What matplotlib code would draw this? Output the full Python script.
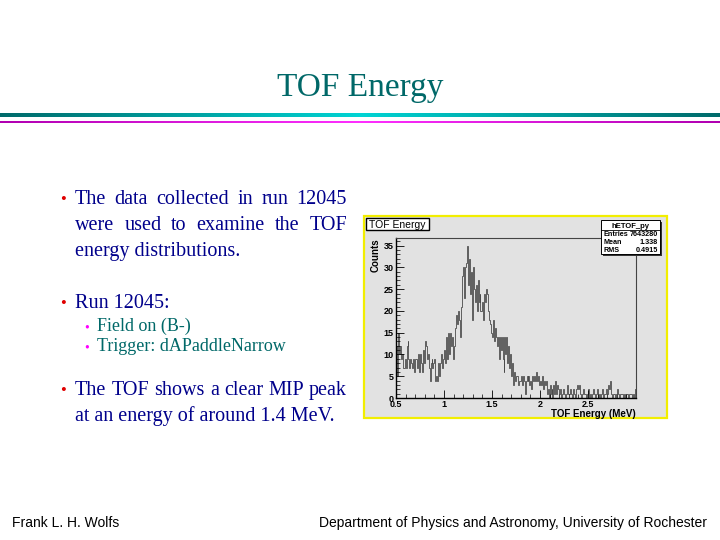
"""TOF Energy slide with ROOT style histogram"""
import numpy as np
import matplotlib.pyplot as plt
from matplotlib.colors import LinearSegmentedColormap
from matplotlib.patches import Rectangle
from matplotlib.ticker import MultipleLocator

W, H = 720, 540

# histogram data, 0.01 MeV bins starting at 0.5 MeV (one row per 0.1 MeV)
bin_lo = 0.5
bin_width = 0.01
counts = [
    12, 5, 15, 10, 12, 9, 10, 7, 7, 9,        # 0.5
    7, 12, 13, 9, 7, 9, 8, 7, 9, 6,           # 0.6
    9, 9, 7, 10, 6, 10, 8, 6, 11, 8,          # 0.7
    13, 12, 9, 10, 7, 4, 8, 9, 7, 8,          # 0.8
    9, 4, 5, 4, 8, 5, 8, 10, 7, 9,            # 0.9
    11, 8, 14, 9, 15, 10, 15, 12, 14, 9,      # 1.0
    12, 16, 17, 19, 17, 20, 18, 14, 21, 28,   # 1.1
    30, 23, 30, 31, 35, 26, 32, 24, 29, 18,   # 1.2
    30, 25, 22, 26, 20, 27, 22, 24, 20, 20,   # 1.3
    22, 18, 24, 22, 25, 24, 20, 18, 17, 15,   # 1.4
    14, 18, 13, 16, 14, 12, 14, 9, 14, 11,    # 1.5
    14, 9, 6, 14, 10, 14, 8, 12, 7, 10,       # 1.6
    5, 8, 3, 6, 4, 5, 5, 3, 4, 4,             # 1.7
    5, 3, 5, 4, 1, 4, 5, 4, 5, 3,             # 1.8
    4, 2, 5, 4, 5, 4, 6, 4, 5, 3,             # 1.9
    4, 3, 5, 2, 4, 3, 4, 1, 2, 0,             # 2.0
    3, 1, 2, 0, 3, 1, 4, 1, 3, 2,             # 2.1
    1, 2, 0, 1, 2, 1, 0, 1, 3, 1,             # 2.2
    1, 2, 1, 0, 2, 1, 0, 1, 2, 3,             # 2.3
    2, 3, 1, 0, 1, 2, 1, 1, 0, 1,             # 2.4
    2, 0, 1, 0, 1, 2, 1, 0, 1, 2,             # 2.5
    0, 1, 1, 0, 1, 2, 0, 1, 1, 2,             # 2.6
    1, 3, 2, 4, 1, 0, 1, 1, 0, 1,             # 2.7
    2, 1, 0, 1, 1, 1, 0, 1, 1, 0,             # 2.8
    1, 1, 0, 1, 1, 1, 0, 1, 0, 2,             # 2.9
]
x_ticks = [0.5, 1, 1.5, 2, 2.5]
x_tick_labels = ['0.5', '1', '1.5', '2', '2.5']
y_ticks = [0, 5, 10, 15, 20, 25, 30, 35]

stats_name = 'hETOF_py'
stats_rows = [('Entries', '7643280'), ('Mean', '1.338'), ('RMS', '0.4915')]

title = 'TOF Energy'
footer_left = 'Frank L. H. Wolfs'
footer_right = 'Department of Physics and Astronomy, University of Rochester'

SERIF = 'Liberation Serif'
SANS = 'Liberation Sans'
NAVY = '#00008b'
TEAL = '#006868'


def fx(x):
    return x / W


def fy(y):
    return 1 - y / H


fig = plt.figure(figsize=(7.2, 5.4), dpi=100)
fig.patch.set_facecolor('white')

# Titulo y lineas de cabecera
fig.text(fx(360), fy(96), title, ha='center', va='baseline', family=SERIF,
         fontsize=24, color=TEAL)

grad = np.abs(np.linspace(-1, 1, 512))[None, :]
teal_cmap = LinearSegmentedColormap.from_list('t', ['#00d4d4', '#006a6a'])
mag_cmap = LinearSegmentedColormap.from_list('m', ['#ff30ff', '#b000b0'])
for (y0, h, cmap) in [(117.5, 4.8, teal_cmap), (123.5, 2.6, mag_cmap)]:
    gax = fig.add_axes([0, fy(y0), 1, h / H])
    gax.imshow(grad, aspect='auto', cmap=cmap)
    gax.axis('off')

renderer = fig.canvas.get_renderer()


def justified(text, x0, x1, y, **kw):
    words = text.split()
    objs = [fig.text(0, fy(y), w, va='baseline', **kw) for w in words]
    widths = [o.get_window_extent(renderer).width for o in objs]
    gap = ((x1 - x0) - sum(widths)) / (len(words) - 1)
    x = x0
    for o, w in zip(objs, widths):
        o.set_x(fx(x))
        x += w + gap


body = dict(family=SERIF, fontsize=14.5, color=NAVY)
sub = dict(family=SERIF, fontsize=13, color=TEAL)


def bullet(x, y, color, size):
    fig.text(fx(x), fy(y), '\u2022', ha='center', va='baseline', family=SERIF,
             fontsize=size, color=color)


bullet(63, 204, '#e00000', 12)
justified('The data collected in run 12045', 75, 347, 204, **body)
justified('were used to examine the TOF', 75, 347, 230, **body)
fig.text(fx(75), fy(256), 'energy distributions.', va='baseline', **body)

bullet(63, 308, '#e00000', 12)
fig.text(fx(75), fy(308), 'Run 12045:', va='baseline', **body)
bullet(87, 331, '#ff00ff', 10)
fig.text(fx(97), fy(331), 'Field on (B-)', va='baseline', **sub)
bullet(87, 351, '#ff00ff', 10)
fig.text(fx(97), fy(351), 'Trigger: dAPaddleNarrow', va='baseline', **sub)

bullet(63, 395, '#e00000', 12)
justified('The TOF shows a clear MIP peak', 75, 347, 395, **body)
fig.text(fx(75), fy(421), 'at an energy of around 1.4 MeV.', va='baseline', **body)

# Pie de pagina
fig.text(fx(12), fy(527), footer_left, va='baseline', family=SANS, fontsize=10)
fig.text(fx(707), fy(527), footer_right, ha='right', va='baseline', family=SANS,
         fontsize=10)

# Lienzo ROOT
fig.patches.append(Rectangle((fx(364), fy(418)), 303 / W, 202 / H,
                             transform=fig.transFigure, facecolor='#e2e2e2',
                             edgecolor='#f2ee00', lw=1.6, zorder=0))

ax = fig.add_axes([fx(396), fy(398), 240 / W, 160 / H])
ax.set_zorder(2)
ax.set_facecolor('#e2e2e2')
edges = bin_lo + bin_width * np.arange(len(counts) + 1)
ax.stairs(counts, edges, color='#4a4a4a', lw=0.6)
ax.set_xlim(0.5, 3.0)
ax.set_ylim(0, 36.75)
ax.set_xticks(x_ticks)
ax.set_xticklabels(x_tick_labels)
ax.set_yticks(y_ticks)
ax.xaxis.set_minor_locator(MultipleLocator(0.1))
ax.yaxis.set_minor_locator(MultipleLocator(1))
ax.tick_params(which='major', direction='in', length=6, width=0.6,
               labelsize=6.5, pad=1.5, top=False, right=False)
ax.tick_params(which='minor', direction='in', length=3, width=0.5,
               top=False, right=False)
for lbl in ax.get_xticklabels() + ax.get_yticklabels():
    lbl.set_fontweight('bold')
    lbl.set_family(SANS)
for side in ['left', 'bottom']:
    ax.spines[side].set_linewidth(1.0)
for side in ['top', 'right']:
    ax.spines[side].set_linewidth(0.8)
    ax.spines[side].set_color('#444444')
ax.set_xlabel('TOF Energy (MeV)', fontsize=7, fontweight='bold', family=SANS,
              loc='right', labelpad=0)
ax.set_ylabel('Counts', fontsize=7, fontweight='bold', family=SANS,
              loc='top', labelpad=2)

# Caja del titulo del histograma
fig.patches.append(Rectangle((fx(366), fy(230)), 63 / W, 12 / H,
                             transform=fig.transFigure, facecolor='white',
                             edgecolor='black', lw=1.0, zorder=3))
fig.text(fx(397.5), fy(228), 'TOF Energy', ha='center', va='baseline',
         family=SANS, fontsize=7.5, zorder=4)

# Caja de estadisticas
fig.patches.append(Rectangle((fx(603), fy(256)), 59 / W, 34 / H,
                             transform=fig.transFigure, facecolor='#333333',
                             edgecolor='none', zorder=3))
fig.patches.append(Rectangle((fx(601), fy(254)), 59 / W, 34 / H,
                             transform=fig.transFigure, facecolor='white',
                             edgecolor='black', lw=0.7, zorder=4))
fig.lines.append(plt.Line2D([fx(601), fx(660)], [fy(229.5), fy(229.5)],
                            transform=fig.transFigure, color='black', lw=0.6,
                            zorder=5))
fig.text(fx(630.5), fy(228), stats_name, ha='center', va='baseline',
         family=SANS, fontsize=5.5, fontweight='bold', zorder=6)
for i, (name, val) in enumerate(stats_rows):
    yb = 236.5 + i * 8
    fig.text(fx(603), fy(yb), name, va='baseline', family=SANS, fontsize=5.2,
             fontweight='bold', zorder=6)
    fig.text(fx(658), fy(yb), val, ha='right', va='baseline', family=SANS,
             fontsize=5.2, fontweight='bold', zorder=6)

fig.savefig('out.png', dpi=100)
